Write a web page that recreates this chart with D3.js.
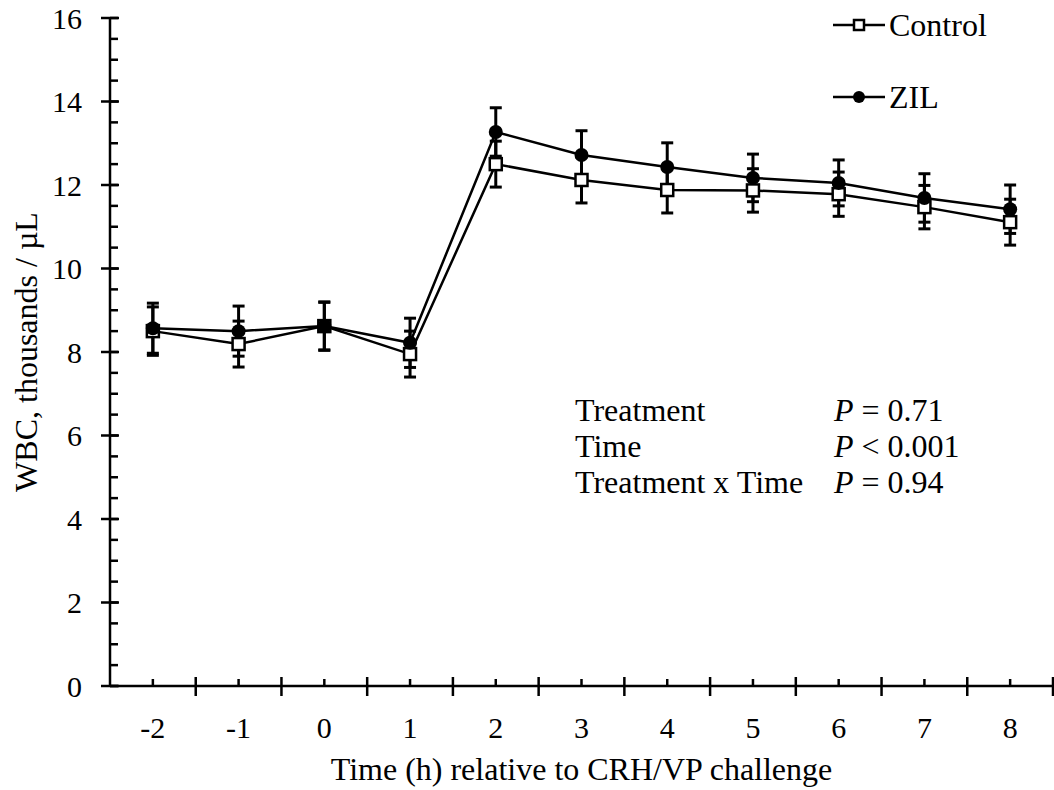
<!DOCTYPE html>
<html>
<head>
<meta charset="utf-8">
<script src="https://cdn.jsdelivr.net/npm/d3@7"></script>
<style>
  body { margin: 0; background: #fff; }
</style>
</head>
<body>
<script>
// data
const hours = ["-2", "-1", "0", "1", "2", "3", "4", "5", "6", "7", "8"];
const controlMean = [8.50, 8.19, 8.62, 7.95, 12.50, 12.12, 11.88, 11.87, 11.78, 11.47, 11.11];
const controlSE   = [0.58, 0.55, 0.57, 0.55, 0.55, 0.55, 0.55, 0.52, 0.53, 0.52, 0.55];
const zilMean     = [8.57, 8.50, 8.62, 8.22, 13.27, 12.72, 12.43, 12.17, 12.05, 11.69, 11.42];
const zilSE       = [0.60, 0.60, 0.58, 0.59, 0.58, 0.58, 0.58, 0.57, 0.55, 0.58, 0.58];
const yMajor = [0, 2, 4, 6, 8, 10, 12, 14, 16];
const yMinor = d3.range(0, 16.01, 0.5);
const stats = [["Treatment", "= 0.71"], ["Time", "< 0.001"], ["Treatment x Time", "= 0.94"]];

const FONT = "'Liberation Serif', 'Times New Roman', 'DejaVu Serif', serif";
const WIDTH = 1054, HEIGHT = 790;
let margin = {top: 18, right: 1, bottom: 104, left: 110},
    width = WIDTH - margin.left - margin.right,
    height = HEIGHT - margin.top - margin.bottom;

let svg = d3.select("body").append("svg")
    .attr("width", WIDTH)
    .attr("height", HEIGHT)
    .attr("font-family", FONT)
    .style("font-family", FONT);

let g = svg.append("g")
    .attr("transform", "translate(" + margin.left + "," + margin.top + ")");

let x = d3.scaleBand().domain(hours).range([0, width]).padding(0);
let y = d3.scaleLinear().domain([0, 16]).range([height, 0]);
let cx = d => x(d) + x.bandwidth() / 2;

// y axis: minor ticks inside, major ticks crossing
let yAxis = g.append("g").attr("class", "yAxis");
yAxis.selectAll(".minor").data(yMinor).enter().append("line")
    .attr("x1", 0).attr("x2", 8)
    .attr("y1", d => y(d)).attr("y2", d => y(d))
    .attr("stroke", "#000").attr("stroke-width", 2.5);
yAxis.selectAll(".major").data(yMajor).enter().append("line")
    .attr("x1", -9).attr("x2", 9)
    .attr("y1", d => y(d)).attr("y2", d => y(d))
    .attr("stroke", "#000").attr("stroke-width", 2.5);
yAxis.selectAll(".lab").data(yMajor).enter().append("text")
    .attr("x", -28).attr("y", d => y(d))
    .attr("dy", "0.35em")
    .attr("text-anchor", "end")
    .attr("font-size", 30)
    .text(d => d);
yAxis.append("line")
    .attr("x1", 0).attr("x2", 0).attr("y1", 0).attr("y2", height)
    .attr("stroke", "#000").attr("stroke-width", 2.5);

// x axis: category boundaries crossing, centres short upward
let xAxis = g.append("g").attr("class", "xAxis")
    .attr("transform", "translate(0," + height + ")");
xAxis.append("line")
    .attr("x1", 0).attr("x2", width)
    .attr("stroke", "#000").attr("stroke-width", 2.5);
xAxis.selectAll(".major").data(hours).enter().append("line")
    .attr("x1", d => x(d) + x.bandwidth()).attr("x2", d => x(d) + x.bandwidth())
    .attr("y1", -9).attr("y2", 10)
    .attr("stroke", "#000").attr("stroke-width", 2.5);
xAxis.selectAll(".minor").data(hours).enter().append("line")
    .attr("x1", cx).attr("x2", cx)
    .attr("y1", -7).attr("y2", 0)
    .attr("stroke", "#000").attr("stroke-width", 2.5);
xAxis.selectAll(".lab").data(hours).enter().append("text")
    .attr("x", cx).attr("y", 52)
    .attr("text-anchor", "middle")
    .attr("font-size", 30)
    .text(d => d);

// titles
svg.append("text")
    .attr("x", margin.left + width / 2).attr("y", 780)
    .attr("text-anchor", "middle")
    .attr("font-size", 32)
    .text("Time (h) relative to CRH/VP challenge");
svg.append("text")
    .attr("transform", "translate(37," + (margin.top + height / 2) + ") rotate(-90)")
    .attr("text-anchor", "middle")
    .attr("font-size", 32)
    .text("WBC, thousands / \u00b5L");

// series
let series = [
    {name: "Control", mean: controlMean, se: controlSE, shape: "square"},
    {name: "ZIL", mean: zilMean, se: zilSE, shape: "circle"}
];
let line = d3.line().x((d, i) => cx(hours[i])).y(d => y(d));

series.forEach(s => {
    let sg = g.append("g");
    sg.selectAll(".err").data(hours).enter().append("g").each(function(h, i) {
        let e = d3.select(this);
        let hi = y(s.mean[i] + s.se[i]), lo = y(s.mean[i] - s.se[i]), xc = cx(h);
        e.append("line").attr("x1", xc).attr("x2", xc).attr("y1", hi).attr("y2", lo)
            .attr("stroke", "#000").attr("stroke-width", 3);
        [hi, lo].forEach(v => e.append("line")
            .attr("x1", xc - 6).attr("x2", xc + 6).attr("y1", v).attr("y2", v)
            .attr("stroke", "#000").attr("stroke-width", 3));
    });
    sg.append("path").datum(s.mean)
        .attr("d", line)
        .attr("fill", "none").attr("stroke", "#000").attr("stroke-width", 2.5);
});
series.forEach(s => {
    let mg = g.append("g");
    if (s.shape === "square") {
        mg.selectAll("rect").data(s.mean).enter().append("rect")
            .attr("x", (d, i) => cx(hours[i]) - 6).attr("y", d => y(d) - 6)
            .attr("width", 12).attr("height", 12)
            .attr("fill", "#fff").attr("stroke", "#000").attr("stroke-width", 2.5);
    } else {
        mg.selectAll("circle").data(s.mean).enter().append("circle")
            .attr("cx", (d, i) => cx(hours[i])).attr("cy", d => y(d))
            .attr("r", 7).attr("fill", "#000");
    }
});

// legend
let legend = svg.append("g");
series.forEach((s, i) => {
    let ly = 25 + i * 72;
    legend.append("line").attr("x1", 833).attr("x2", 885).attr("y1", ly).attr("y2", ly)
        .attr("stroke", "#000").attr("stroke-width", 2.5);
    if (s.shape === "square") {
        legend.append("rect").attr("x", 854).attr("y", ly - 5).attr("width", 10).attr("height", 10)
            .attr("fill", "#fff").attr("stroke", "#000").attr("stroke-width", 2.5);
    } else {
        legend.append("circle").attr("cx", 859).attr("cy", ly).attr("r", 6).attr("fill", "#000");
    }
    legend.append("text").attr("x", 889).attr("y", ly).attr("dy", "0.35em")
        .attr("font-size", 32).text(s.name);
});

// statistics note
let note = svg.append("g");
stats.forEach((r, i) => {
    let ty = 421 + i * 36;
    note.append("text").attr("x", 575).attr("y", ty).attr("font-size", 32).text(r[0]);
    let t = note.append("text").attr("x", 834).attr("y", ty).attr("font-size", 32);
    t.append("tspan").attr("font-style", "italic").text("P");
    t.append("tspan").text(" " + r[1]);
});
</script>
</body>
</html>
